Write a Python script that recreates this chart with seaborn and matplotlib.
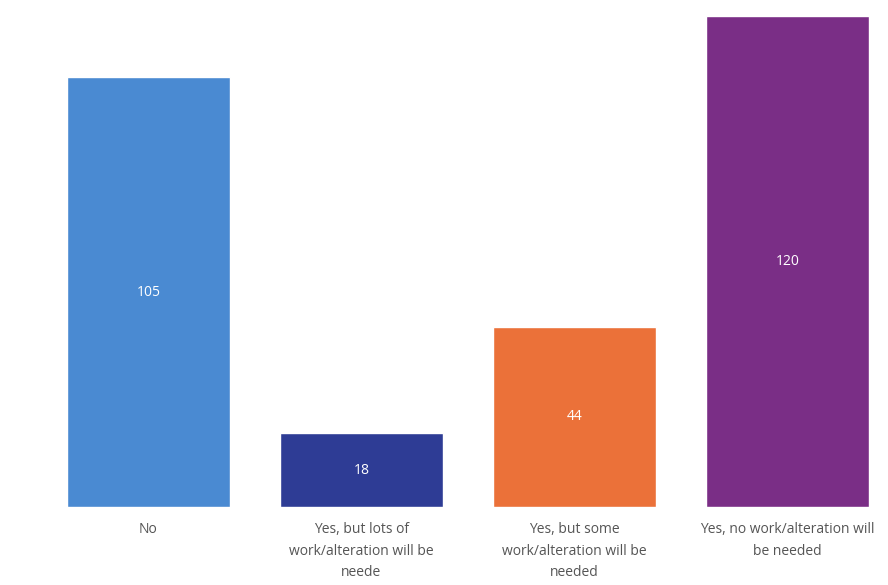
import pandas as pd
import matplotlib
matplotlib.use("Agg")
import matplotlib.pyplot as plt
import seaborn as sns

# Data
categories = ["No",
              "Yes, but lots of\nwork/alteration will be\nneede",
              "Yes, but some\nwork/alteration will be\nneeded",
              "Yes, no work/alteration will\nbe needed"]
counts = [105, 18, 44, 120]
colors = ["#4A8AD2", "#2E3C95", "#EB7139", "#7A2E86"]

df = pd.DataFrame({"Answer": categories, "Count": counts})

sns.set_style("white")
plt.rcParams["font.family"] = ["Open Sans", "DejaVu Sans"]

fig = plt.figure(figsize=(8.88, 5.85), dpi=100)
ax = fig.add_axes([0, 78 / 585, 1, 507 / 585])
sns.barplot(data=df, x="Answer", y="Count", hue="Answer", palette=colors,
            saturation=1, width=0.765, legend=False, ax=ax)

# Value labels in the middle of each bar
for cont in ax.containers:
    ax.bar_label(cont, label_type="center", color="white", fontsize=10)

ax.set_xlim(-0.697, 3.472)
ax.set_ylim(0, 123.9)
ax.set_xlabel("")
ax.set_ylabel("")
ax.set_yticks([])
ax.tick_params(axis="x", length=0, pad=11, labelsize=10, labelcolor="#555555")
for lbl in ax.get_xticklabels():
    lbl.set_linespacing(1.6)
sns.despine(left=True, bottom=True)

fig.savefig("out.png", dpi=100)
